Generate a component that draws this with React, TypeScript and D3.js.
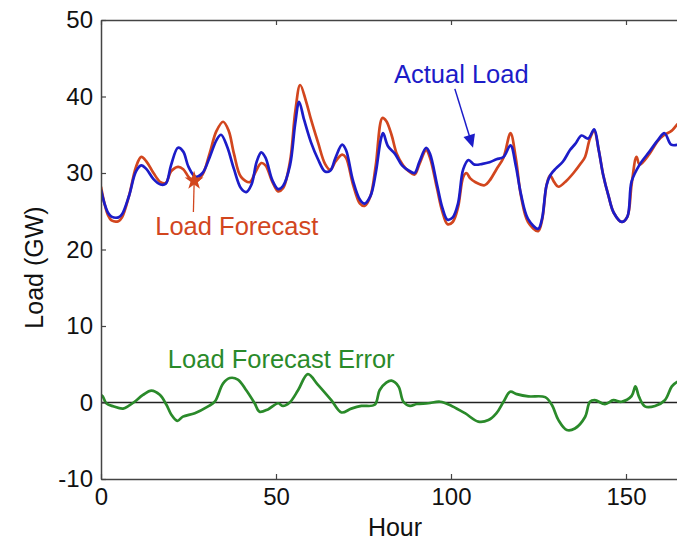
import React, { useEffect, useRef } from "react";
import * as d3 from "d3";

const WIDTH = 677;
const HEIGHT = 541;

// curves (hour, GW)
const actualHours = [0, 1, 2, 3, 5, 6, 8, 10, 11.5, 13, 15, 17, 18.5, 20, 22, 23.5, 25, 27, 29, 31, 33, 34.3, 36, 38, 40, 41.5, 43, 44.5, 45.8, 47, 49, 50.6, 52, 54, 55.5, 56.6, 58, 60, 62, 64, 65.5, 67, 68.9, 70, 72, 74, 75.3, 77, 78.5, 80, 80.6, 82, 84, 86, 88, 89.6, 91, 92.9, 94, 96, 97.5, 99, 100.5, 102, 103.5, 105, 106.7, 109, 111, 113, 115, 117, 118.5, 120, 122, 124.9, 126, 127.3, 128.5, 130, 132, 134, 135.5, 137.3, 139.2, 140.9, 142.2, 143.5, 145, 146.5, 148.8, 150.4, 151.6, 153.9, 156.7, 159.1, 161, 162.9, 165, 167];
const actualLoad = [27.8, 26.0, 24.8, 24.3, 24.2, 24.6, 27.0, 30.2, 31.0, 30.5, 29.2, 28.5, 28.6, 31.0, 33.3, 32.8, 30.8, 29.5, 30.0, 32.0, 34.3, 35.0, 33.5, 30.5, 28.0, 27.5, 28.5, 31.5, 32.7, 32.0, 29.0, 27.9, 28.3, 31.0, 36.5, 39.3, 37.0, 34.0, 31.8, 30.2, 30.3, 32.0, 33.7, 33.0, 29.0, 26.5, 26.0, 27.0, 30.0, 34.5, 35.2, 33.5, 32.5, 31.0, 30.3, 30.0, 31.5, 33.3, 32.5, 28.5, 25.5, 23.9, 24.2, 26.0, 30.5, 31.7, 31.1, 31.2, 31.4, 31.8, 32.1, 33.6, 31.0, 27.2, 24.0, 22.7, 24.0, 28.4, 29.8, 30.6, 31.5, 33.0, 33.8, 34.9, 34.5, 35.7, 33.0, 29.7, 27.0, 24.8, 23.6, 24.3, 28.9, 31.1, 32.8, 34.3, 35.2, 33.7, 33.7, 34.0];

const forecastHours = [0, 1, 2, 3, 5, 6, 8, 10, 11.5, 13, 15, 17, 18.5, 20, 22, 23.5, 25, 26.8, 29, 31, 33, 34.9, 36.5, 38, 40, 42.5, 44, 45.8, 47, 49, 50.6, 52, 54, 55.5, 56.9, 58.5, 60, 62, 64, 65.5, 67, 68.9, 70, 72, 74, 75.3, 77, 78.5, 80.4, 81.5, 83, 84.5, 86.3, 88, 89.6, 91, 92.9, 94, 96, 97.5, 99, 100.5, 102, 103.5, 104.4, 105.5, 107, 109.6, 111, 113, 115, 117, 118.5, 120, 122, 124.9, 126, 127.3, 128.3, 129.5, 130.7, 133, 135, 137, 138.3, 139.7, 140.9, 142.2, 143.5, 145, 146.5, 148.8, 150.4, 151.6, 153, 153.9, 156.7, 159.1, 161, 163, 165, 167];
const forecastLoad = [28.2, 26.0, 24.5, 23.8, 23.7, 24.2, 27.0, 30.8, 32.1, 31.5, 30.0, 28.8, 28.7, 30.2, 30.8, 30.5, 29.5, 28.8, 29.8, 32.5, 35.5, 36.7, 35.5, 32.5, 29.5, 28.8, 30.0, 31.3, 31.0, 28.8, 27.6, 28.0, 31.5, 38.0, 41.5, 39.5, 37.0, 34.0, 31.2, 30.4, 31.5, 32.4, 32.0, 28.5, 26.0, 25.7, 27.0, 31.0, 37.2, 36.8, 35.0, 32.5, 31.0, 30.2, 29.8, 31.2, 33.0, 32.0, 28.0, 25.0, 23.3, 23.6, 25.5, 29.5, 30.0, 29.3, 28.8, 28.4, 29.0, 30.5, 32.0, 35.2, 32.0, 27.0, 23.6, 22.4, 23.8, 28.4, 29.7, 28.8, 28.2, 29.0, 30.0, 31.2, 32.1, 34.5, 35.5, 33.0, 29.7, 27.0, 24.8, 23.6, 24.3, 28.5, 32.1, 31.1, 32.5, 34.2, 35.0, 35.5, 36.5, 37.0];

const errorHours = [0, 0.5, 1.5, 3.5, 6.3, 8, 9.6, 12, 14.4, 16.8, 18.7, 20.1, 21.8, 23.4, 26.8, 30.6, 32.5, 34.9, 36.8, 39.1, 41.5, 43.9, 45.3, 47.7, 50.6, 52, 53.9, 56.3, 59.1, 62, 65.8, 68.7, 71.5, 74.4, 78.2, 79.6, 81.5, 83, 85, 86.4, 88.3, 90.2, 93.5, 96.9, 100.2, 104, 107.8, 110.7, 113, 115, 116.9, 118.8, 122.1, 126.9, 128.8, 130.7, 133.1, 135.4, 138.3, 139.7, 141.1, 144, 146.4, 148.7, 151.6, 152.7, 153.7, 155.4, 158.3, 161.1, 163.1, 164.6, 167];
const errorLoad = [1.0, 0.8, -0.1, -0.5, -0.8, -0.4, 0.1, 1.0, 1.55, 1.0, -0.3, -1.6, -2.4, -1.85, -1.4, -0.5, 0.1, 2.5, 3.2, 3.0, 1.6, -0.1, -1.2, -0.9, -0.1, -0.45, 0, 1.6, 3.7, 2.3, 0.3, -1.3, -0.8, -0.45, -0.3, 1.6, 2.6, 2.85, 2.1, 0.1, -0.45, -0.2, -0.1, 0.1, -0.45, -1.4, -2.5, -2.3, -1.4, 0.1, 1.4, 1.1, 0.8, 0.7, -0.3, -2.3, -3.6, -3.4, -1.9, 0.1, 0.3, -0.2, 0.3, 0.1, 0.85, 2.1, 0.76, -0.5, -0.45, 0.3, 2.1, 2.7, 3.0];

const xTicks = [0, 50, 100, 150];
const yTicks = [-10, 0, 10, 20, 30, 40, 50];

const BLUE = "#1c1cc8";
const RED = "#d2461e";
const GREEN = "#2a8a2a";
const AXIS = "#444";
const FONT = "Arial, 'Liberation Sans', Helvetica, sans-serif";

const zip = (hours: number[], vals: number[]) => hours.map((h, i) => [h, vals[i]] as [number, number]);

const App = () => {
    const ref = useRef<SVGSVGElement>(null);

    useEffect(() => {
        const svg = d3.select(ref.current);
        svg.selectAll("*").remove();

        const margin = { top: 20, left: 101, bottom: 62 };
        const x = d3.scaleLinear().domain([0, 168]).range([margin.left, margin.left + 168 * 3.5]);
        const y = d3.scaleLinear().domain([-10, 50]).range([HEIGHT - margin.bottom, margin.top]);

        svg.append("defs").append("clipPath").attr("id", "plot")
            .append("rect")
            .attr("x", x(0)).attr("y", y(50))
            .attr("width", x(168) - x(0)).attr("height", y(-10) - y(50));

        // zero line
        svg.append("line")
            .attr("x1", x(0)).attr("x2", x(168))
            .attr("y1", y(0)).attr("y2", y(0))
            .attr("stroke", "#222").attr("stroke-width", 1.3);

        const line = d3.line<[number, number]>()
            .x(d => x(d[0]))
            .y(d => y(d[1]))
            .curve(d3.curveCatmullRom.alpha(0.5));

        const plot = svg.append("g").attr("clip-path", "url(#plot)");
        const series = [
            { pts: zip(errorHours, errorLoad), color: GREEN },
            { pts: zip(forecastHours, forecastLoad), color: RED },
            { pts: zip(actualHours, actualLoad), color: BLUE },
        ];
        series.forEach(s => {
            plot.append("path")
                .attr("d", line(s.pts))
                .attr("fill", "none")
                .attr("stroke", s.color)
                .attr("stroke-width", 2.7)
                .attr("stroke-linejoin", "round");
        });

        // axes (ticks point inward, like matlab)
        const styleAxis = (g: any) => {
            g.select(".domain").attr("stroke", AXIS).attr("stroke-width", 1.5);
            g.selectAll(".tick line").attr("stroke", AXIS).attr("stroke-width", 1.2);
            g.selectAll(".tick text").attr("fill", "#111").style("font-size", "24px").style("font-family", FONT);
        };
        const plain = (d: any) => String(d);

        svg.append("g")
            .attr("transform", `translate(0,${y(-10)})`)
            .call(d3.axisBottom(x).tickValues(xTicks).tickFormat(plain).tickSize(-5).tickSizeOuter(0).tickPadding(9))
            .call(styleAxis);

        svg.append("g")
            .attr("transform", `translate(0,${y(50)})`)
            .call(d3.axisTop(x).tickValues(xTicks).tickSize(-5).tickSizeOuter(0).tickFormat(() => ""))
            .call(styleAxis);

        svg.append("g")
            .attr("transform", `translate(${x(0)},0)`)
            .call(d3.axisLeft(y).tickValues(yTicks).tickFormat(plain).tickSize(-5).tickSizeOuter(0).tickPadding(8))
            .call(styleAxis);

        // axis titles
        svg.append("text")
            .attr("x", 395).attr("y", 536)
            .attr("text-anchor", "middle")
            .style("font-family", FONT).style("font-size", "25px").attr("fill", "#111")
            .text("Hour");

        svg.append("text")
            .attr("transform", `translate(43,${(y(50) + y(-10)) / 2 + 18}) rotate(-90)`)
            .attr("text-anchor", "middle")
            .style("font-family", FONT).style("font-size", "25px").attr("fill", "#111")
            .text("Load (GW)");

        // annotations
        const label = (text: string, hx: number, vy: number, color: string) =>
            svg.append("text")
                .attr("x", x(hx)).attr("y", y(vy))
                .style("font-family", FONT).style("font-size", "25.5px")
                .attr("fill", color)
                .text(text);

        label("Actual Load", 83.7, 41.8, BLUE);
        label("Load Forecast", 15.5, 21.9, RED);
        label("Load Forecast Error", 19.1, 4.5, GREEN);

        // blue arrow to actual load
        const ax0 = x(101.1), ay0 = y(41.0), ax1 = x(106.3), ay1 = y(33.3);
        const ang = Math.atan2(ay1 - ay0, ax1 - ax0);
        svg.append("line")
            .attr("x1", ax0).attr("y1", ay0)
            .attr("x2", ax1 - 10 * Math.cos(ang)).attr("y2", ay1 - 10 * Math.sin(ang))
            .attr("stroke", BLUE).attr("stroke-width", 1.5);
        svg.append("path")
            .attr("d", "M0,0 L-13,-6 L-13,6 Z")
            .attr("transform", `translate(${ax1},${ay1}) rotate(${(ang * 180) / Math.PI})`)
            .attr("fill", BLUE);

        // red arrow to forecast
        svg.append("line")
            .attr("x1", x(26.4)).attr("y1", y(24.9))
            .attr("x2", x(26.6)).attr("y2", y(28.6))
            .attr("stroke", RED).attr("stroke-width", 1.3);
        svg.append("path")
            .attr("d", d3.symbol(d3.symbolStar, 110)())
            .attr("transform", `translate(${x(26.6)},${y(29.0)})`)
            .attr("fill", RED);
    }, []);

    return (
        <svg
            ref={ref}
            width={WIDTH}
            height={HEIGHT}
            style={{ position: "absolute", left: 0, top: 0, background: "#fff" }}
        />
    );
};

export default App;
